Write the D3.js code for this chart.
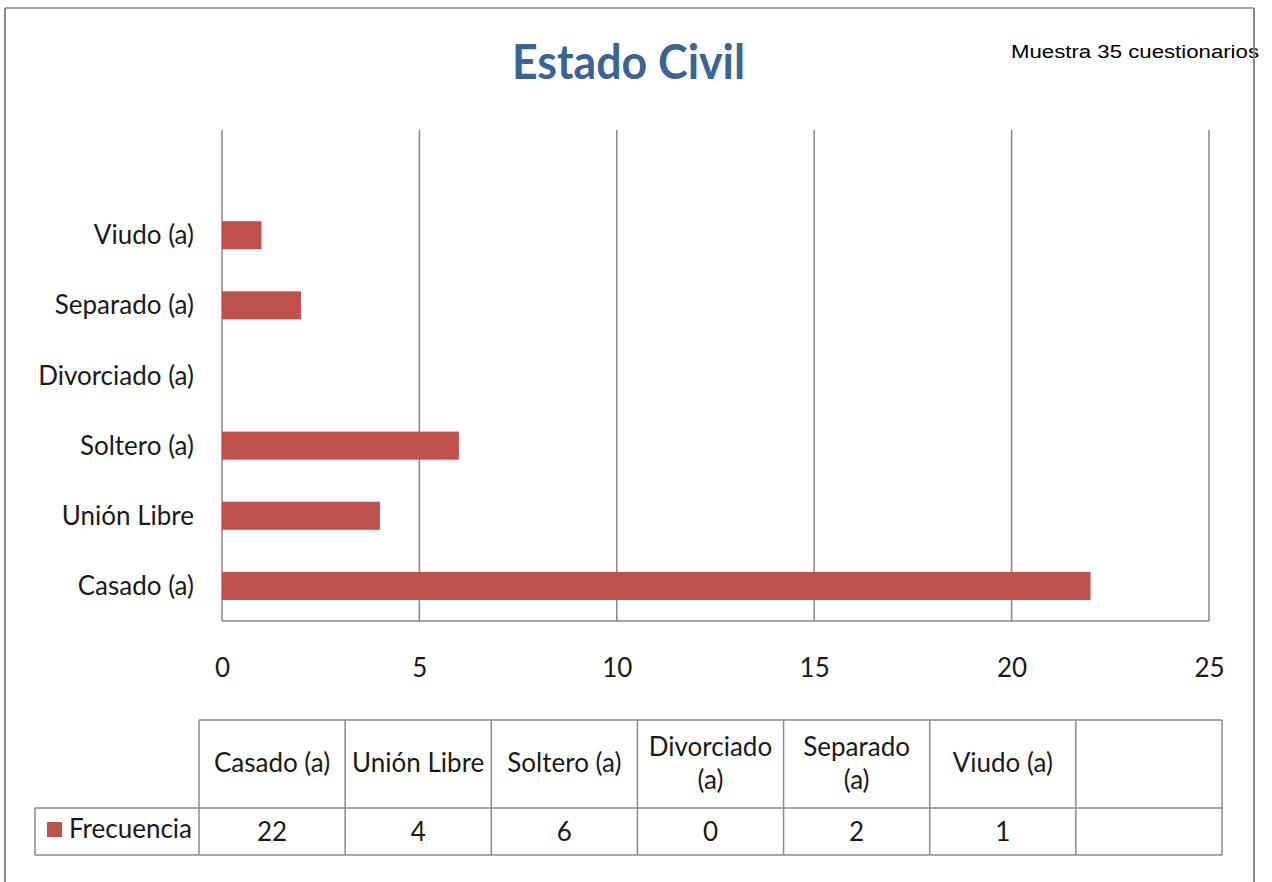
<!DOCTYPE html>
<html>
<head>
<meta charset="utf-8">
<script src="https://cdn.jsdelivr.net/npm/d3@7"></script>
<style>
  html, body { margin: 0; padding: 0; background: #fff; }
  svg { display: block; }
</style>
</head>
<body>
<svg id="chart" width="1272" height="882"></svg>
<script>
// ---- data ----
const chartTitle = "Estado Civil";
const noteText = "Muestra 35 cuestionarios";
const seriesName = "Frecuencia";
const categories = ["Casado (a)", "Unión Libre", "Soltero (a)", "Divorciado (a)", "Separado (a)", "Viudo (a)", ""];
const frecuencia = [22, 4, 6, 0, 2, 1, null];
const tableHeaders = ["Casado (a)", "Unión Libre", "Soltero (a)", "Divorciado\n(a)", "Separado\n(a)", "Viudo (a)", ""];
const xTicks = [0, 5, 10, 15, 20, 25];

// ---- layout ----
const W = 1272, H = 882;
const plot = { left: 222, right: 1209, top: 130, bottom: 621 };
const table = { legendLeft: 35, left: 199, right: 1222, top: 720, mid: 808, bottom: 855 };
const FONT = "Lato, 'Open Sans', sans-serif";
const FS = 26;
const barColor = "#C0504D";
const gridColor = "#878787";
const textColor = "#1a1a1a";

const svg = d3.select("#chart");

svg.append("rect").attr("x", 0).attr("y", 0).attr("width", W).attr("height", H).attr("fill", "#fff");

const x = d3.scaleLinear().domain([0, 25]).range([plot.left, plot.right]);
const y = d3.scaleBand().domain(categories).range([plot.bottom, plot.top])
  .paddingInner(0.6).paddingOuter(0.3);

// title
svg.append("text")
  .attr("x", 628.5).attr("y", 79)
  .attr("text-anchor", "middle")
  .attr("font-family", FONT).attr("font-weight", "bold")
  .attr("font-size", 47).attr("fill", "#3A6495")
  .attr("textLength", 233).attr("lengthAdjust", "spacingAndGlyphs")
  .text(chartTitle);

// note
svg.append("text")
  .attr("x", 1011).attr("y", 58)
  .attr("font-family", "'Liberation Sans', Arial, sans-serif")
  .attr("font-size", 18).attr("fill", "#000")
  .attr("textLength", 248).attr("lengthAdjust", "spacingAndGlyphs")
  .text(noteText);

// gridlines
svg.append("g").selectAll("line").data(xTicks).join("line")
  .attr("x1", d => x(d)).attr("x2", d => x(d))
  .attr("y1", plot.top).attr("y2", plot.bottom)
  .attr("stroke", gridColor).attr("stroke-width", 1.5);

// bottom axis line
svg.append("line")
  .attr("x1", plot.left).attr("x2", plot.right)
  .attr("y1", plot.bottom).attr("y2", plot.bottom)
  .attr("stroke", gridColor).attr("stroke-width", 1.5);

// bars
svg.append("g").selectAll("rect")
  .data(categories.map((c, i) => ({ c, v: frecuencia[i] })).filter(d => d.v !== null && d.v > 0))
  .join("rect")
  .attr("x", x(0))
  .attr("y", d => y(d.c))
  .attr("width", d => x(d.v) - x(0))
  .attr("height", y.bandwidth())
  .attr("fill", barColor);

// x axis tick labels
const xAxis = d3.axisBottom(x).tickValues(xTicks).tickSize(0).tickPadding(0).tickFormat(d3.format("d"));
const gx = svg.append("g").attr("transform", `translate(0,${plot.bottom})`).call(xAxis);
gx.select(".domain").remove();
gx.selectAll("text")
  .attr("dy", null).attr("y", 56)
  .attr("font-family", FONT).attr("font-size", FS).attr("fill", textColor);

// y axis category labels
const yAxis = d3.axisLeft(y).tickSize(0).tickPadding(0);
const gy = svg.append("g").attr("transform", `translate(${plot.left},0)`).call(yAxis);
gy.select(".domain").remove();
gy.selectAll("text")
  .attr("x", -28).attr("dy", "0.35em")
  .attr("font-family", FONT).attr("font-size", FS).attr("fill", textColor);

// data table
const tcol = d3.scaleBand().domain(categories).range([table.left, table.right]);
const tg = svg.append("g");
const lineStyle = sel => sel.attr("stroke", "#8a8a8a").attr("stroke-width", 1.5);

tg.append("line").attr("x1", table.left).attr("x2", table.right).attr("y1", table.top).attr("y2", table.top).call(lineStyle);
tg.append("line").attr("x1", table.legendLeft).attr("x2", table.right).attr("y1", table.mid).attr("y2", table.mid).call(lineStyle);
tg.append("line").attr("x1", table.legendLeft).attr("x2", table.right).attr("y1", table.bottom).attr("y2", table.bottom).call(lineStyle);
tg.append("line").attr("x1", table.legendLeft).attr("x2", table.legendLeft).attr("y1", table.mid).attr("y2", table.bottom).call(lineStyle);
const colEdges = categories.map(c => tcol(c)).concat([table.right]);
tg.selectAll("line.v").data(colEdges).join("line").attr("class", "v")
  .attr("x1", d => d).attr("x2", d => d)
  .attr("y1", table.top).attr("y2", table.bottom).call(lineStyle);

categories.forEach((c, i) => {
  const lines = tableHeaders[i].split("\n");
  const cx = tcol(c) + tcol.bandwidth() / 2;
  const cy = (table.top + table.mid) / 2 - 1;
  const lh = 33;
  const t = tg.append("text")
    .attr("text-anchor", "middle")
    .attr("font-family", FONT).attr("font-size", FS).attr("fill", textColor);
  lines.forEach((ln, j) => {
    t.append("tspan")
      .attr("x", cx)
      .attr("y", cy + (j - (lines.length - 1) / 2) * lh)
      .attr("dy", "0.35em")
      .text(ln);
  });
  tg.append("text")
    .attr("x", cx).attr("y", (table.mid + table.bottom) / 2).attr("dy", "0.35em")
    .attr("text-anchor", "middle")
    .attr("font-family", FONT).attr("font-size", FS).attr("fill", textColor)
    .text(frecuencia[i] === null ? "" : frecuencia[i]);
});

// legend in table
tg.append("rect").attr("x", 47).attr("y", 822).attr("width", 15).attr("height", 15).attr("fill", barColor);
tg.append("text")
  .attr("x", 69).attr("y", (table.mid + table.bottom) / 2 - 3).attr("dy", "0.35em")
  .attr("font-family", FONT).attr("font-size", FS).attr("fill", textColor)
  .text(seriesName);

// chart border
svg.append("line").attr("x1", 5).attr("x2", 5).attr("y1", 8).attr("y2", H).attr("stroke", "#8a8a8a").attr("stroke-width", 2);
svg.append("line").attr("x1", 1254).attr("x2", 1254).attr("y1", 8).attr("y2", H).attr("stroke", "#8a8a8a").attr("stroke-width", 2);
svg.append("line").attr("x1", 5).attr("x2", 1254).attr("y1", 8).attr("y2", 8).attr("stroke", "#8a8a8a").attr("stroke-width", 1.5);
</script>
</body>
</html>
